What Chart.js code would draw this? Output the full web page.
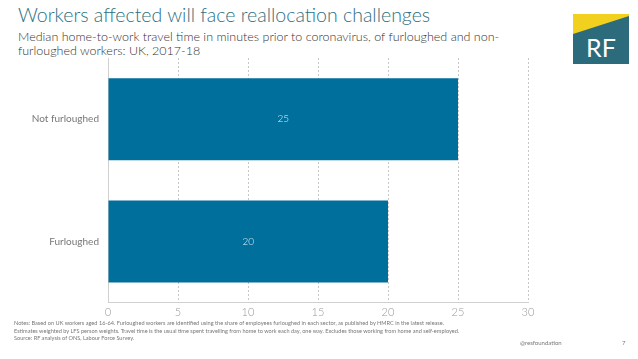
<!DOCTYPE html>
<html>
<head>
<meta charset="utf-8">
<script src="https://cdn.jsdelivr.net/npm/chart.js@4"></script>
<style>
  body { margin: 0; width: 638px; height: 359px; background: #fff; position: relative; overflow: hidden; font-family: Lato, sans-serif; }
  #title { position: absolute; left: 18px; top: 3px; font-size: 19.5px; font-weight: 300; color: #2d6f80; }
  #subtitle { position: absolute; left: 18px; top: 30px; width: 500px; font-size: 12.5px; line-height: 14px; color: #333; font-weight: 300; }
  #logo { position: absolute; left: 573px; top: 14px; width: 56px; height: 50px; }
  #chartBox { position: absolute; left: 0; top: 43px; width: 545px; height: 279px; }
  #notes { position: absolute; left: 14px; top: 319px; font-size: 5.6px; line-height: 7.6px; color: #777; white-space: nowrap; }
  #handle { position: absolute; left: 520px; top: 339px; font-size: 6px; color: #777; }
  #page { position: absolute; left: 622px; top: 339px; font-size: 6px; color: #777; }
</style>
</head>
<body>
<div id="title">Workers affected will face reallocation challenges</div>
<div id="subtitle">Median home-to-work travel time in minutes prior to coronavirus, of furloughed and non-furloughed workers: UK, 2017-18</div>
<svg id="logo" viewBox="0 0 56 50">
  <rect x="0" y="0" width="56" height="50" fill="#2c6b7b"/>
  <polygon points="0,0 56,0 56,2 0,20" fill="#f2d01e"/>
  <text x="28" y="43" text-anchor="middle" font-family="Lato, sans-serif" font-size="25" fill="#fff">RF</text>
</svg>
<div id="chartBox"><canvas id="travelChart"></canvas></div>
<div id="notes">Notes: Based on UK workers aged 16-64. Furloughed workers are identified using the share of employees furloughed in each sector, as published by HMRC in the latest release.<br>Estimates weighted by LFS person weights. Travel time is the usual time spent travelling from home to work each day, one way. Excludes those working from home and self-employed.<br>Source: RF analysis of ONS, Labour Force Survey.</div>
<div id="handle">@resfoundation</div>
<div id="page">7</div>
<script>
// categories and values (minutes)
const categories = ["Not furloughed", "Furloughed"];
const travelMinutes = [25, 20];
const xTicks = [0, 5, 10, 15, 20, 25, 30];

const barColor = "#006f9b";

// write the value in the middle of each bar
const barLabels = {
    id: "barLabels",
    afterDatasetsDraw(chart) {
        const c = chart.ctx;
        const meta = chart.getDatasetMeta(0);
        c.save();
        c.font = "300 10px Lato, sans-serif";
        c.fillStyle = "#dfeef5";
        c.textAlign = "center";
        c.textBaseline = "middle";
        meta.data.forEach((bar, i) => {
            c.fillText(travelMinutes[i], (bar.x + bar.base) / 2, bar.y);
        });
        c.restore();
    }
};

const ctx = document.getElementById("travelChart").getContext("2d");
new Chart(ctx, {
    type: "bar",
    data: {
        labels: categories,
        datasets: [{
            data: travelMinutes,
            backgroundColor: barColor,
            barPercentage: 0.67,
            categoryPercentage: 1
        }]
    },
    options: {
        indexAxis: "y",
        responsive: true,
        maintainAspectRatio: false,
        animation: false,
        layout: { padding: { left: 0, right: 17, top: 5, bottom: 0 } },
        plugins: { legend: { display: false }, tooltip: { enabled: false } },
        scales: {
            x: {
                min: 0,
                max: 30,
                afterBuildTicks: (axis) => { axis.ticks = xTicks.map(v => ({ value: v })); },
                grid: { color: "#c8c8c8", lineWidth: 1, drawTicks: false },
                border: { display: true, color: "#d0d0d0", dash: [2, 2] },
                ticks: { color: "#999", font: { family: "Lato", size: 11, weight: 300 }, padding: 3 }
            },
            y: {
                grid: { display: false, drawTicks: false },
                border: { display: true, color: "#d0d0d0" },
                afterFit: (axis) => { axis.width = 108; },
                ticks: { color: "#777", font: { family: "Lato", size: 10 }, padding: 9 }
            }
        }
    },
    plugins: [barLabels]
});
</script>
</body>
</html>
